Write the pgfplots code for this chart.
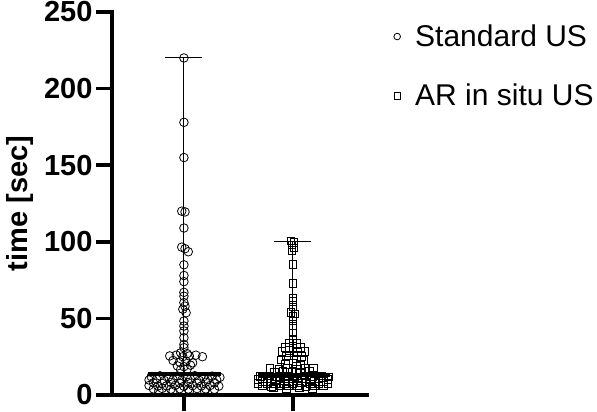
\documentclass[border=0pt]{standalone}
\usepackage{fontspec}
\setmainfont{Liberation Sans}
\usepackage{pgfplots}
\pgfplotsset{compat=1.18}

\newcommand{\bigfont}{\fontsize{29bp}{34bp}\selectfont}

\begin{document}
\begin{tikzpicture}
\useasboundingbox (-112bp,-17bp) rectangle (485bp,395bp);
\begin{axis}[
  at={(0,0)}, anchor=south west,
  scale only axis, width=255bp, height=383bp,
  xmin=0.34, xmax=2.68, ymin=0, ymax=250,
  axis lines=left,
  axis line style={-, line width=3.5bp, line cap=rect},
  xtick={1,2}, xticklabels={},
  ytick={0,50,100,150,200,250},
  tick align=outside, major tick length=16bp,
  every tick/.style={black, line width=3.5bp},
  minor tick num=0,
  ticklabel style={font=\bfseries\bigfont},
  /pgf/number format/assume math mode=true,
  ylabel={time [sec]},
  ylabel style={font=\bfseries\bigfont, at={(axis description cs:-0.36,0.5)}, anchor=center},
  clip=false,
  legend cell align=left,
  legend style={draw=none, fill=none, at={(axis description cs:1.102,0.972)}, anchor=north west,
    font=\fontsize{30bp}{36bp}\selectfont, row sep=32bp, inner sep=0pt},
  legend image code/.code={\draw[#1, mark size=3.3bp] plot coordinates {(4bp,0bp)};
    \path[draw=none] (0bp,0bp) -- (20bp,0bp);},
]
\addplot[only marks, mark=o, mark size=4.3bp, mark options={line width=0.8bp}] coordinates {
(1.00,220) (1.00,178) (1.00,155) (0.98,120) (1.01,119.5) (1.00,109) (0.98,96.5) (1.01,95.5) (1.04,93.5)
(1.00,85) (1.00,78) (1.00,74) (1.00,67) (1.00,64.5) (1.00,60.3) (1.01,58) (0.99,56) (1.02,53.7)
(1.00,48.3) (1.00,45) (1.00,41.8) (1.00,37.4) (1.00,33) (1.00,30.9) (0.97,27.5) (1.03,27)
(0.87,25.5) (0.93,26) (0.99,25) (1.05,25.5) (1.11,26) (1.17,25) (0.90,22.5) (0.96,21.5) (1.02,22)
(1.08,21) (0.94,19) (1.00,18.5) (1.06,19.5) (0.97,16.5) (1.03,17)
(0.70,12) (0.78,12.5) (0.86,11.8) (0.94,12.4) (1.02,11.9) (1.10,12.6) (1.18,12) (1.26,12.3) (1.33,11.5)
(0.68,9.8) (0.75,10.2) (0.82,9.5) (0.90,10) (0.98,9.7) (1.06,10.3) (1.14,9.6) (1.22,10.1) (1.30,9.9)
(0.72,8) (0.80,7.6) (0.88,8.2) (0.96,7.8) (1.04,8.1) (1.12,7.7) (1.20,8.3) (1.28,7.9)
(0.68,6.2) (0.76,5.8) (0.84,6) (0.92,6.3) (1.00,5.7) (1.08,6.1) (1.16,5.9) (1.24,6.2) (1.32,5.8)
(0.72,4) (0.80,4.3) (0.88,3.8) (0.96,4.1) (1.04,3.9) (1.12,4.2) (1.20,4) (1.28,3.7)
(0.77,2.6) (0.90,2.3) (1.05,2.5) (1.19,2.4)
};
\addlegendentry{Standard US}
\addplot[only marks, mark=square, mark size=3.8bp, mark options={line width=0.8bp}] coordinates {
(1.98,100.5) (2.01,99.5) (1.99,98) (2.01,96) (1.99,94.5) (2.00,85.3) (2.00,72.7) (2.00,63.5) (2.00,61)
(2.00,57.5) (1.98,54) (2.02,53) (2.00,51.5) (2.00,48.3) (2.00,45) (2.00,40.6) (2.00,36.5) (1.97,34)
(2.03,33.5) (1.93,31) (2.00,30.5) (2.07,31) (1.90,28.5) (1.97,29) (2.04,28) (2.11,28.5)
(1.94,25.5) (2.01,26) (2.08,25) (1.89,23) (1.96,22.5) (2.03,23.5) (2.10,22.5) (1.93,20) (2.00,20.5) (2.07,19.5)
(1.79,17.5) (1.87,17) (1.95,17.5) (2.03,16.8) (2.11,17.3) (2.19,17.6) (1.83,15.2) (1.91,15.6) (1.99,14.6) (2.07,15.1) (2.15,15.4)
(1.70,12) (1.78,12.4) (1.86,11.8) (1.94,12.3) (2.02,11.9) (2.10,12.5) (2.18,12.1) (2.26,12.4) (2.33,11.7)
(1.68,10.3) (1.76,10.7) (1.84,10.2) (1.92,10.6) (2.00,10.4) (2.08,10.8) (2.16,10.3) (2.24,10.6) (2.32,10.2)
(1.72,9) (1.80,8.7) (1.88,9.2) (1.96,8.8) (2.04,9.1) (2.12,8.6) (2.20,9) (2.28,8.8)
(1.68,7.4) (1.76,7.7) (1.84,7.3) (1.92,7.6) (2.00,7.5) (2.08,7.8) (2.16,7.2) (2.24,7.6) (2.32,7.4)
(1.72,6) (1.80,5.8) (1.88,6.2) (1.96,5.9) (2.04,6.1) (2.12,5.7) (2.20,6) (2.28,6.2)
(1.82,4.6) (1.94,4.4) (2.06,4.7) (2.18,4.5)
};
\addlegendentry{AR in situ US}
% range lines and caps
\addplot[forget plot, line width=1bp] coordinates {(1,2.3) (1,220)};
\addplot[forget plot, line width=1bp] coordinates {(0.83,220) (1.17,220)};
\addplot[forget plot, line width=1bp] coordinates {(2,4.4) (2,100.5)};
\addplot[forget plot, line width=1bp] coordinates {(1.83,100.5) (2.17,100.5)};
% medians
\addplot[forget plot, line width=4bp] coordinates {(0.67,14) (1.34,14)};
\addplot[forget plot, line width=4bp] coordinates {(1.68,13) (2.34,13)};
\end{axis}
\end{tikzpicture}
\end{document}
